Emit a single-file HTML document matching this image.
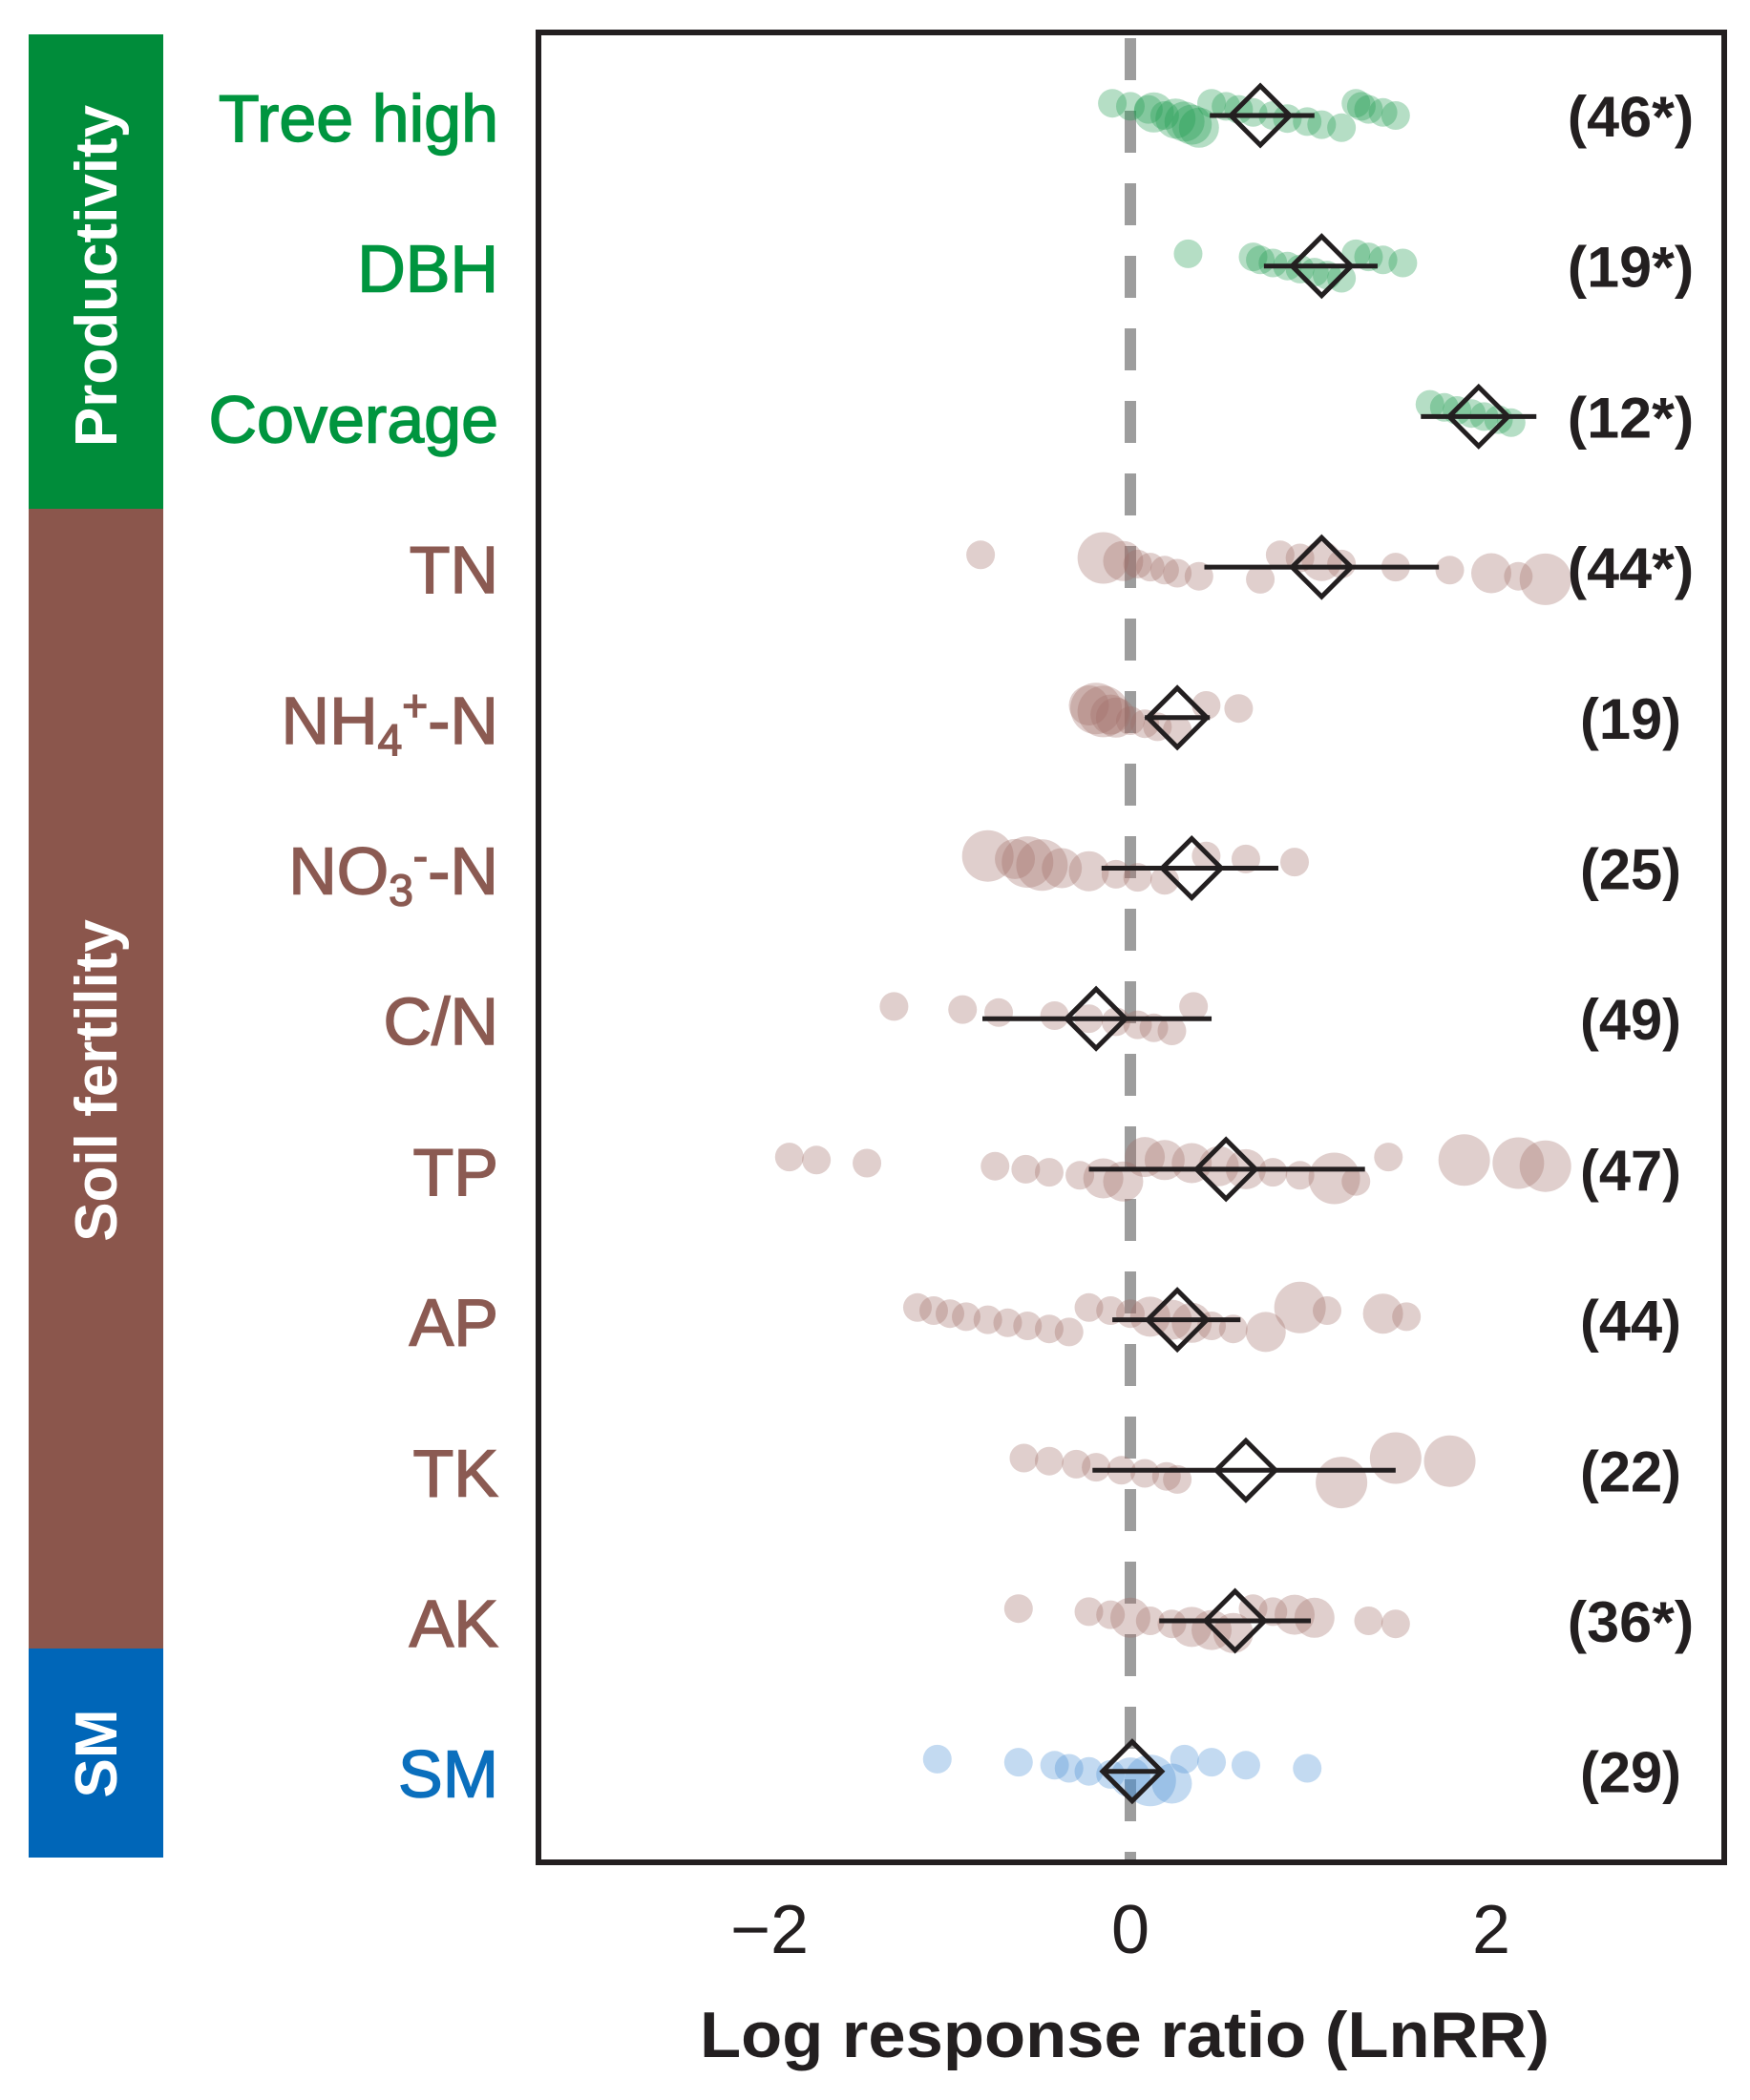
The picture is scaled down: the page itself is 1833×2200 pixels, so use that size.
<!DOCTYPE html>
<html><head><meta charset="utf-8"><style>
body{margin:0;background:#fff}
svg{display:block}
text{font-family:"Liberation Sans",Arial,sans-serif}
</style></head><body>
<svg id="chart" width="1833" height="2200" viewBox="0 0 1833 2200" xmlns="http://www.w3.org/2000/svg">
<rect x="30" y="36" width="141" height="497" fill="#008c3a"/>
<rect x="30" y="533" width="141" height="1194" fill="#8b564c"/>
<rect x="30" y="1727" width="141" height="219" fill="#0066b8"/>
<text transform="translate(122,289) rotate(-90)" text-anchor="middle" font-size="62" font-weight="bold" fill="#fff">Productivity</text>
<text transform="translate(122,1132) rotate(-90)" text-anchor="middle" font-size="62" font-weight="bold" fill="#fff">Soil fertility</text>
<text transform="translate(122,1837) rotate(-90)" text-anchor="middle" font-size="62" font-weight="bold" fill="#fff">SM</text>
<rect x="564" y="34" width="1242" height="1917" fill="none" stroke="#231f20" stroke-width="6"/>
<g id="marks"></g>
<g id="labels"></g>
<text x="733" y="2155" font-size="68" font-weight="bold" fill="#231f20" textLength="890" lengthAdjust="spacingAndGlyphs">Log response ratio (LnRR)</text>
</svg>
<script>
const categories=["Tree high","DBH","Coverage","TN","NH4+-N","NO3--N","C/N","TP","AP","TK","AK","SM"];
const groups=["prod","prod","prod","soil","soil","soil","soil","soil","soil","soil","soil","sm"];
const means=[0.72,1.06,1.93,1.06,0.26,0.34,-0.19,0.53,0.26,0.64,0.58,0.01];
const ciLow=[0.44,0.74,1.61,0.41,0.08,-0.16,-0.82,-0.23,-0.10,-0.21,0.16,-0.14];
const ciHigh=[1.02,1.37,2.25,1.71,0.44,0.82,0.45,1.30,0.61,1.47,1.00,0.17];
const counts=["(46*)","(19*)","(12*)","(44*)","(19)","(25)","(49)","(47)","(44)","(22)","(36*)","(29)"];
const xTicks=[-2,0,2];
const xTickLabels=["\u22122","0","2"];
const pts0=[-0.1,0,0.1,0.13,0.19,0.25,0.3,0.34,0.38,0.45,0.53,0.6,0.68,0.79,0.87,0.98,1.06,1.17,1.25,1.28,1.32,1.4,1.47];
const w0=[1,1,1,2,1,2,2,2,2,1,1,1,1,1,1,1,1,1,1,1,1,1,1];
const pts1=[0.32,0.68,0.72,0.79,0.87,0.94,1.02,1.09,1.17,1.25,1.32,1.4,1.51];
const w1=[1,1,1,1,1,1,1,1,1,1,1,1,1];
const pts2=[1.66,1.74,1.81,1.89,1.96,2.04,2.11];
const w2=[1,1,1,1,1,1,1];
const pts3=[-0.83,-0.15,-0.04,0.04,0.11,0.19,0.26,0.38,0.72,0.83,0.94,1.06,1.17,1.47,1.77,2.0,2.15,2.3];
const w3=[1,3,2,1,1,1,1,1,1,1,1,2,1,1,1,2,1,3];
const pts4=[-0.23,-0.19,-0.15,-0.11,-0.08,0,0.08,0.15,0.26,0.42,0.6];
const w4=[2,3,3,2,2,1,1,1,1,1,1];
const pts5=[-0.79,-0.64,-0.57,-0.49,-0.38,-0.23,-0.08,0.04,0.19,0.42,0.64,0.91];
const w5=[3,2,3,3,2,2,1,1,1,1,1,1];
const pts6=[-1.31,-0.93,-0.73,-0.42,-0.23,-0.08,0.04,0.13,0.23,0.35];
const w6=[1,1,1,1,1,1,1,1,1,1];
const pts7=[-1.89,-1.74,-1.46,-0.75,-0.58,-0.45,-0.28,-0.15,-0.04,0.08,0.19,0.34,0.49,0.64,0.79,0.94,1.13,1.25,1.43,1.85,2.15,2.3];
const w7=[1,1,1,1,1,1,1,2,2,2,2,2,2,2,1,1,3,1,1,3,3,3];
const pts8=[-1.18,-1.09,-1.0,-0.91,-0.79,-0.68,-0.57,-0.45,-0.34,-0.23,-0.11,0,0.11,0.23,0.34,0.45,0.57,0.75,0.94,1.09,1.4,1.53];
const w8=[1,1,1,1,1,1,1,1,1,1,1,1,2,2,2,1,1,2,3,1,2,1];
const pts9=[-0.59,-0.45,-0.3,-0.19,-0.05,0.08,0.2,0.26,1.17,1.47,1.77];
const w9=[1,1,1,1,1,1,1,1,3,3,3];
const pts10=[-0.62,-0.23,-0.11,0,0.11,0.23,0.34,0.45,0.57,0.68,0.79,0.91,1.02,1.32,1.47];
const w10=[1,1,1,2,1,1,2,2,2,1,1,2,2,1,1];
const pts11=[-1.07,-0.62,-0.42,-0.34,-0.23,-0.11,0,0.11,0.23,0.3,0.45,0.64,0.98];
const w11=[1,1,1,1,1,1,2,3,2,1,1,1,1];
const allPts=[pts0,pts1,pts2,pts3,pts4,pts5,pts6,pts7,pts8,pts9,pts10,pts11];
const allW=[w0,w1,w2,w3,w4,w5,w6,w7,w8,w9,w10,w11];

const NS="http://www.w3.org/2000/svg";
const X0=1184,UNIT=189;
function xScale(v){return X0+v*UNIT;}
function yScale(i){return 121+i*157.7;}
const fillCol={prod:"#1e9a50",soil:"#a06e68",sm:"#4a90d4"};
const textCol={prod:"#00953f",soil:"#8b5a52",sm:"#0b6fbd"};
const marks=document.getElementById("marks");
const labels=document.getElementById("labels");
function mk(tag,attrs,parent){const e=document.createElementNS(NS,tag);for(const k in attrs)e.setAttribute(k,attrs[k]);parent.appendChild(e);return e;}

const zl=mk("line",{x1:xScale(0),x2:xScale(0),y1:40,y2:1948,stroke:"#9d9d9d","stroke-width":12,"stroke-dasharray":"44 32"},marks);



categories.forEach((c,i)=>{
  const y=yScale(i),g=groups[i];
  const pts=allPts[i],ws=allW[i];
  pts.forEach((v,j)=>{
    const dy=(((j*37)%9)-4)*3.2;
    const cc=mk("circle",{cx:xScale(v),cy:y+dy,r:9+ws[j]*6,fill:fillCol[g],"fill-opacity":0.33},marks);
    
    
  });
  const eb=mk("line",{x1:xScale(ciLow[i]),x2:xScale(ciHigh[i]),y1:y,y2:y,stroke:"#231f20","stroke-width":5},marks);
  
  
  const mx=xScale(means[i]),h=31;
  const d=mk("polygon",{points:`${mx-h},${y} ${mx},${y-h} ${mx+h},${y} ${mx},${y+h}`,fill:"none",stroke:"#231f20","stroke-width":5},marks);
  
  

  const t=mk("text",{x:522,y:y+27,"text-anchor":"end","font-size":70,fill:textCol[g],stroke:textCol[g],"stroke-width":1.5},labels);
  
  
  if(c==="NH4+-N"||c==="NO3--N"){
    const base=c.slice(0,2), sub=c[2], sup=c[3];
    t.appendChild(document.createTextNode(base));
    mk("tspan",{"font-size":46,dy:12},t).textContent=sub;
    mk("tspan",{"font-size":46,dy:-36},t).textContent=sup;
    mk("tspan",{dy:24},t).textContent="-N";
  } else t.textContent=c;

  const n=counts[i];
  const ct=mk("text",{x:1708,y:y+22,"text-anchor":"middle","font-size":60,"font-weight":"bold",fill:"#231f20",textLength:n.length*26.5,lengthAdjust:"spacingAndGlyphs"},labels);
  
  
  ct.textContent=n;
});

xTicks.forEach((v,k)=>{
  const t=mk("text",{x:xScale(v),y:2046,"text-anchor":"middle","font-size":72,fill:"#231f20"},labels);
  
  
  t.textContent=xTickLabels[k];
});
</script>
</body></html>
